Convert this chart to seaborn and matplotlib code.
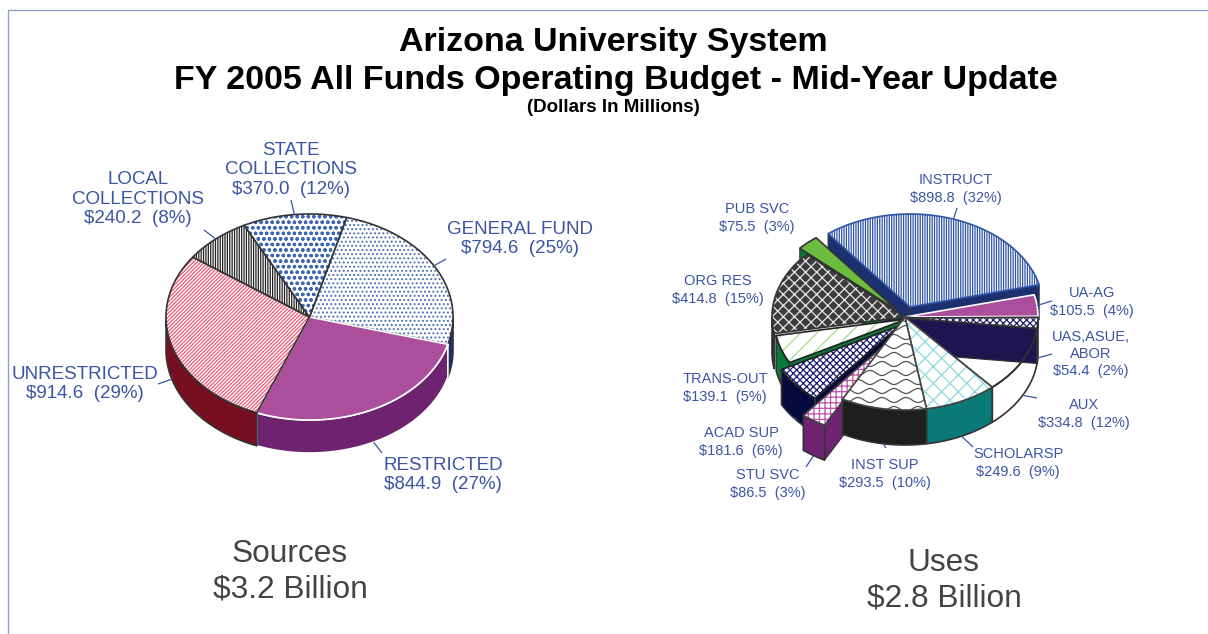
import matplotlib
matplotlib.use('Agg')
import matplotlib.pyplot as plt
from matplotlib.patches import Polygon
import numpy as np
import seaborn as sns

# left pie, clockwise from GENERAL FUND
source_names = ['GENERAL FUND', 'RESTRICTED', 'UNRESTRICTED', 'LOCAL COLLECTIONS', 'STATE COLLECTIONS']
source_values = [794.6, 844.9, 914.6, 240.2, 370.0]
source_pct = [25, 27, 29, 8, 12]

# right pie, clockwise from INSTRUCT
use_names = ['INSTRUCT', 'UA-AG', 'UAS,ASUE,ABOR', 'AUX', 'SCHOLARSP', 'INST SUP',
             'STU SVC', 'ACAD SUP', 'TRANS-OUT', 'ORG RES', 'PUB SVC']
use_values = [898.8, 105.5, 54.4, 334.8, 249.6, 293.5, 86.5, 181.6, 139.1, 414.8, 75.5]
use_pct = [32, 4, 2, 12, 9, 10, 3, 6, 5, 15, 3]

# pixel offsets of pulled out slices
use_offsets = {'INSTRUCT': (5, -10), 'UAS,ASUE,ABOR': (0, 1), 'STU SVC': (-18, 26), 'ACAD SUP': (-6, 9),
               'TRANS-OUT': (2, 2), 'PUB SVC': (-7, -6)}

source_styles = {
    'GENERAL FUND': ('white', '#4a6db5', '....', '#333333', '#1c2f6e'),
    'RESTRICTED': ('#ab4e9b', '#ab4e9b', '', 'white', '#6e2370'),
    'UNRESTRICTED': ('white', '#ef5a78', '/////////', '#333333', '#761020'),
    'LOCAL COLLECTIONS': ('white', '#222222', '|||||||', '#333333', '#333333'),
    'STATE COLLECTIONS': ('white', '#3f66b0', 'ooo', '#333333', '#333333'),
}
use_styles = {
    'INSTRUCT': ('white', '#2f55a8', '|||||||', '#2f55a8', '#1c2f6e'),
    'UA-AG': ('#ab4e9b', '#ab4e9b', '', 'white', '#6e2370'),
    'UAS,ASUE,ABOR': ('white', '#1e1a6e', 'xxxxx', '#333333', '#1e1450'),
    'AUX': ('white', 'white', '', '#333333', 'white'),
    'SCHOLARSP': ('white', '#8adbe0', 'xx', '#444444', '#0a7a78'),
    'INST SUP': ('white', 'white', '', '#444444', '#1e1e1e'),
    'STU SVC': ('white', '#c050a8', '+++', '#444444', '#6e2370'),
    'ACAD SUP': ('white', '#1a1a70', 'xxxxx', '#222222', '#060a3c'),
    'TRANS-OUT': ('white', '#a5dc8a', '//', '#222222', '#0a7a3c'),
    'ORG RES': ('#3c3c3c', '#e8e8e8', 'xxx', '#333333', '#2a2a2a'),
    'PUB SVC': ('#6cbc40', '#6cbc40', '', '#333333', '#0a7a3c'),
}

# name -> lines of label, centre x, centre y, leader end
source_labels = {
    'GENERAL FUND': (['GENERAL FUND', '$794.6  (25%)'], 520, 239, (446, 259)),
    'RESTRICTED': (['RESTRICTED', '$844.9  (27%)'], 443, 475, (382, 453)),
    'UNRESTRICTED': (['UNRESTRICTED', '$914.6  (29%)'], 85, 384, (158, 384)),
    'LOCAL COLLECTIONS': (['LOCAL', 'COLLECTIONS', '$240.2  (8%)'], 138, 199, (204, 230)),
    'STATE COLLECTIONS': (['STATE', 'COLLECTIONS', '$370.0  (12%)'], 291, 170, (291, 200)),
}
use_labels = {
    'INSTRUCT': (['INSTRUCT', '$898.8  (32%)'], 956, 189, (957, 208)),
    'UA-AG': (['UA-AG', '$105.5  (4%)'], 1092, 302, (1052, 301)),
    'UAS,ASUE,ABOR': (['UAS,ASUE,', 'ABOR', '$54.4  (2%)'], 1091, 354, (1052, 354)),
    'AUX': (['AUX', '$334.8  (12%)'], 1084, 414, (1037, 398)),
    'SCHOLARSP': (['SCHOLARSP', '$249.6  (9%)'], 1018, 463, (973, 447)),
    'INST SUP': (['INST SUP', '$293.5  (10%)'], 885, 474, (886, 448)),
    'STU SVC': (['STU SVC', '$86.5  (3%)'], 768, 484, (806, 467)),
    'ACAD SUP': (['ACAD SUP', '$181.6  (6%)'], 741, 442, (795, 418)),
    'TRANS-OUT': (['TRANS-OUT', '$139.1  (5%)'], 725, 388, (781, 384)),
    'ORG RES': (['ORG RES', '$414.8  (15%)'], 718, 290, (776, 292)),
    'PUB SVC': (['PUB SVC', '$75.5  (3%)'], 757, 218, (806, 243)),
}

LABEL_COLOR = '#3a55a4'
FONT = 'Liberation Sans'


def slice_angles(values, start):
    """Clockwise start and end angle of every slice, in degrees"""
    sweep = np.cumsum(values) / np.sum(values) * 360
    ends = start - sweep
    starts = np.concatenate([[start], ends[:-1]])
    return starts, ends


def rim(cx, cy, rx, ry, a0, a1):
    t = np.radians(np.linspace(a0, a1, 60))
    return np.column_stack([cx + rx * np.cos(t), cy - ry * np.sin(t)])


def add_poly(ax, pts, face, hatch_color, hatch, edge, lw=1.2, z=1):
    patch = Polygon(pts, closed=True, facecolor=face, edgecolor=hatch_color,
                    hatch=hatch, linewidth=0, zorder=z)
    ax.add_patch(patch)
    ax.add_patch(Polygon(pts, closed=True, fill=False, edgecolor=edge,
                         linewidth=lw, zorder=z + 0.1, joinstyle='round'))
    return patch


def add_waves(ax, patch, z):
    """Wavy texture of the INST SUP face, clipped to the slice"""
    x = np.arange(760, 1040, 1.0)
    for k, y0 in enumerate(np.arange(310, 430, 9.0)):
        y = y0 + 2.5 * np.sin(2 * np.pi * x / 24 + k * np.pi)
        line, = ax.plot(x, y, color='#555555', lw=0.9, zorder=z)
        line.set_clip_path(patch)


def draw_slice(ax, geom, a0, a1, style, offset, z, top_z=None):
    """One slice: radial walls, rim wall, then the top face"""
    cx, cy, rx, ry, depth = geom
    face, hatch_color, hatch, edge, wall = style
    ox, oy = offset
    apex = np.array([[cx + ox, cy + oy]])
    arc = rim(cx + ox, cy + oy, rx, ry, a0, a1)
    down = np.array([0, depth])

    if ox or oy:
        # a radial wall only shows when it faces the viewer
        if np.cos(np.radians(a0)) < 0:
            add_poly(ax, np.vstack([apex, [arc[0]], [arc[0] + down], apex + down]), wall, wall, '', '#333333', 0.8, z)
        if np.cos(np.radians(a1)) > 0:
            add_poly(ax, np.vstack([apex, [arc[-1]], [arc[-1] + down], apex + down]), wall, wall, '', '#333333', 0.8, z)

    # part of the rim that faces the viewer
    front = np.sin(np.radians(np.linspace(a0, a1, 60))) < 0
    if front.any():
        part = arc[front]
        wall_pts = np.vstack([part, part[::-1] + down])
        wall_edge = 'white' if edge == 'white' else '#333333'
        add_poly(ax, wall_pts, wall, wall, '', wall_edge, 1.2, z)

    if top_z is None:
        top_z = z + 0.5
    return add_poly(ax, np.vstack([apex, arc]), face, hatch_color, hatch, edge, 1.2, top_z)


def draw_labels(ax, labels, size, step, starts):
    for name, (lines, x, y, tip) in labels.items():
        ax.text(x, y, '\n'.join(lines), ha='center', va='center', fontsize=size,
                color=LABEL_COLOR, family=FONT, linespacing=step, zorder=30)
        start = starts[name]
        ax.plot([start[0], tip[0]], [start[1], tip[1]], color=LABEL_COLOR, lw=0.9,
                solid_capstyle='butt', zorder=29)


def leader_starts(names, starts, ends, geom, offsets):
    """Leader lines leave from the middle of each slice's rim"""
    cx, cy, rx, ry, depth = geom
    out = {}
    for name, a0, a1 in zip(names, starts, ends):
        mid = np.radians((a0 + a1) / 2)
        ox, oy = offsets.get(name, (0, 0))
        py = cy + oy - ry * np.sin(mid) + (depth if np.sin(mid) < 0 else 0)
        out[name] = (cx + ox + rx * np.cos(mid), py)
    return out


def main():
    sns.set_theme(style='white')
    plt.rcParams['hatch.linewidth'] = 0.9

    fig = plt.figure(figsize=(12.08, 6.34), dpi=100)
    ax = fig.add_axes([0, 0, 1, 1])
    ax.set_xlim(0, 1208)
    ax.set_ylim(634, 0)
    ax.axis('off')

    # frame
    ax.plot([8, 8, 1208], [634, 10, 10], color='#8f9fc6', lw=1)

    # sources pie
    geom = (309.5, 317, 143.5, 103, 33)
    starts, ends = slice_angles(source_values, 75)
    for i in [4, 3, 0, 2, 1]:
        name = source_names[i]
        draw_slice(ax, geom, starts[i], ends[i], source_styles[name], (0, 0), i + 1)
    draw_labels(ax, source_labels, 13.5, 1.22, leader_starts(source_names, starts, ends, geom, {}))

    # uses pie, far slices first so the near ones cover them
    geom = (905, 317, 133, 93, 35)
    starts, ends = slice_angles(use_values, 128)
    order = ['PUB SVC', 'INSTRUCT', 'ORG RES', 'UA-AG', 'AUX', 'UAS,ASUE,ABOR', 'TRANS-OUT',
             'ACAD SUP', 'STU SVC', 'SCHOLARSP', 'INST SUP']
    for z, name in enumerate(order):
        i = use_names.index(name)
        top_z = 20 if name == 'PUB SVC' else None
        top = draw_slice(ax, geom, starts[i], ends[i], use_styles[name], use_offsets.get(name, (0, 0)), z + 1, top_z)
        if name == 'INST SUP':
            add_waves(ax, top, z + 1.55)
    # the rim of AUX stays visible over the wall of the thin slice
    i = use_names.index('AUX')
    arc = rim(geom[0], geom[1], geom[2], geom[3], starts[i], ends[i])
    ax.plot(arc[:, 0], arc[:, 1], color='#333333', lw=1.2, zorder=21)
    draw_labels(ax, use_labels, 10.5, 1.3, leader_starts(use_names, starts, ends, geom, use_offsets))

    # titles
    ax.text(613, 42, 'Arizona University System', ha='center', va='center', fontsize=24.5,
            fontweight='bold', color='black', family=FONT)
    ax.text(616, 80, 'FY 2005 All Funds Operating Budget - Mid-Year Update', ha='center', va='center',
            fontsize=24.5, fontweight='bold', color='black', family=FONT)
    ax.text(613, 107, '(Dollars In Millions)', ha='center', va='center', fontsize=13.5,
            fontweight='bold', color='black', family=FONT)

    ax.text(290, 572, 'Sources\n$3.2 Billion', ha='center', va='center', fontsize=22.8,
            color='#444444', family=FONT, linespacing=1.22)
    ax.text(944, 581, 'Uses\n$2.8 Billion', ha='center', va='center', fontsize=22.8,
            color='#444444', family=FONT, linespacing=1.22)

    fig.savefig('out.png', dpi=100)


if __name__ == '__main__':
    main()
